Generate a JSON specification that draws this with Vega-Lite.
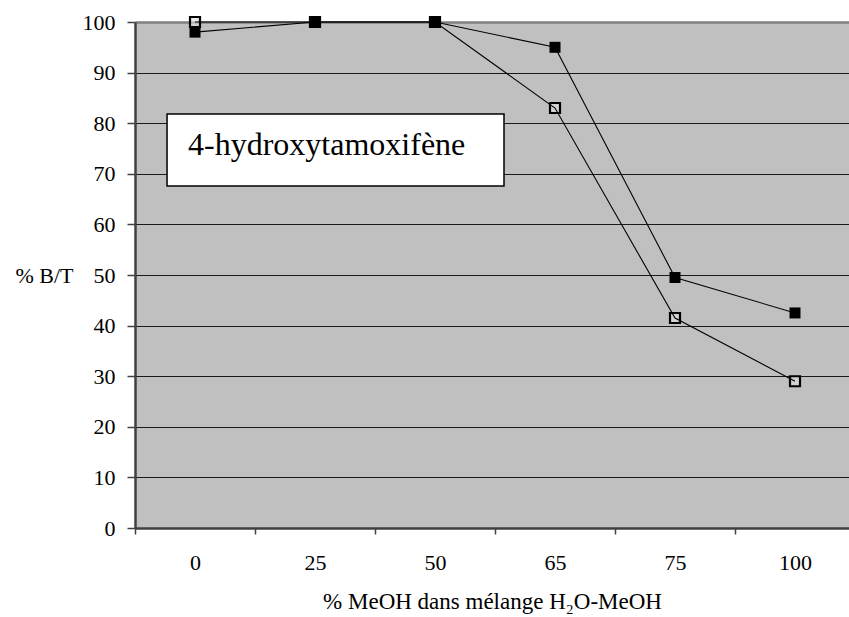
{
  "$schema": "https://vega.github.io/schema/vega-lite/v6.json",
  "width": 714,
  "height": 506,
  "autosize": "none",
  "padding": {"left": 135, "top": 22, "right": 0, "bottom": 89},
  "background": "white",
  "config": {
    "view": {"fill": "#c0c0c0", "stroke": null},
    "font": "Liberation Serif"
  },
  "layer": [
    {
      "data": {"values": [{"x0": 0.267, "x1": 3.075, "y0": 67.6, "y1": 81.8, "tx": 0.442, "ty": 73.7, "label": "4-hydroxytamoxifène"}]},
      "encoding": {
        "x": {"type": "quantitative", "scale": {"domain": [0, 6], "range": [0, 720]}, "axis": null}
      },
      "layer": [
        {
          "mark": {"type": "rect", "fill": "white", "stroke": "black", "strokeWidth": 1.5},
          "encoding": {
            "x": {"field": "x0", "type": "quantitative", "scale": {"domain": [0, 6], "range": [0, 720]}, "axis": null},
            "x2": {"field": "x1"},
            "y": {"field": "y0", "type": "quantitative", "scale": {"domain": [0, 100]}},
            "y2": {"field": "y1"}
          }
        },
        {
          "mark": {"type": "text", "align": "left", "baseline": "alphabetic", "fontSize": 32, "font": "Liberation Serif", "color": "black"},
          "encoding": {
            "x": {"field": "tx", "type": "quantitative", "scale": {"domain": [0, 6], "range": [0, 720]}, "axis": null},
            "y": {"field": "ty", "type": "quantitative", "scale": {"domain": [0, 100]}},
            "text": {"field": "label"}
          }
        }
      ]
    },
    {
      "data": {"values": [
        {"meoh": "0", "series": "plein", "bt": 98},
        {"meoh": "25", "series": "plein", "bt": 100},
        {"meoh": "50", "series": "plein", "bt": 100},
        {"meoh": "65", "series": "plein", "bt": 95},
        {"meoh": "75", "series": "plein", "bt": 49.5},
        {"meoh": "100", "series": "plein", "bt": 42.5},
        {"meoh": "0", "series": "vide", "bt": 100},
        {"meoh": "25", "series": "vide", "bt": 100},
        {"meoh": "50", "series": "vide", "bt": 100},
        {"meoh": "65", "series": "vide", "bt": 83},
        {"meoh": "75", "series": "vide", "bt": 41.5},
        {"meoh": "100", "series": "vide", "bt": 29}
      ]},
      "encoding": {
        "x": {
          "field": "meoh", "type": "ordinal",
          "sort": ["0", "25", "50", "65", "75", "100"],
          "scale": {"range": [0, 720], "paddingInner": 0, "paddingOuter": 0},
          "axis": {
            "title": "% MeOH dans mélange H₂O-MeOH",
            "titleFont": "Liberation Serif", "titleFontSize": 23, "titleFontWeight": "normal", "titleColor": "black",
            "titleX": 357, "titleY": 73, "titleAlign": "center", "titleBaseline": "middle",
            "labelAngle": 0, "labelFont": "Liberation Serif", "labelFontSize": 22, "labelColor": "black",
            "labelPadding": 28, "labelBaseline": "middle",
            "tickBand": "extent", "tickSize": 6, "tickColor": "#404040", "tickWidth": 1.5,
            "domainColor": "#404040", "domainWidth": 2.5,
            "grid": false
          }
        },
        "y": {
          "field": "bt", "type": "quantitative",
          "scale": {"domain": [0, 100], "nice": false},
          "axis": {
            "values": [0, 10, 20, 30, 40, 50, 60, 70, 80, 90, 100],
            "title": "% B/T", "titleAngle": 0, "titleAlign": "right", "titleBaseline": "middle",
            "titleX": -62, "titleY": 253,
            "titleFont": "Liberation Serif", "titleFontSize": 22, "titleFontWeight": "normal", "titleColor": "black",
            "labelFont": "Liberation Serif", "labelFontSize": 22, "labelColor": "black", "labelPadding": 12,
            "tickSize": 8, "tickColor": "#404040", "tickWidth": 1.5,
            "domainColor": "#404040", "domainWidth": 2.5,
            "grid": true,
            "gridColor": {"condition": {"test": "datum.value == 100", "value": "#808080"}, "value": "#1a1a1a"},
            "gridWidth": {"condition": {"test": "datum.value == 100", "value": 2.5}, "value": 1}
          }
        }
      },
      "layer": [
        {
          "transform": [{"filter": "datum.series == 'vide'"}],
          "mark": {"type": "point", "shape": "square", "size": 100, "filled": true, "fill": "#dedede", "fillOpacity": 0.6, "stroke": "black", "strokeWidth": 2.2}
        },
        {
          "transform": [{"filter": "datum.series == 'plein'"}],
          "mark": {"type": "point", "shape": "square", "size": 121, "filled": true, "fill": "black", "fillOpacity": 1, "stroke": "black", "strokeWidth": 0}
        },
        {
          "mark": {"type": "line", "color": "black", "strokeWidth": 1.1},
          "encoding": {"detail": {"field": "series"}}
        }
      ]
    }
  ],
  "resolve": {"scale": {"x": "independent"}}
}
